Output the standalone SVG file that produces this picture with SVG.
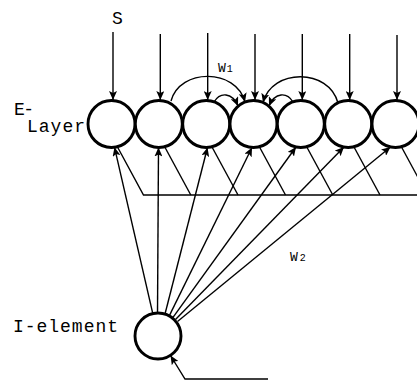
<svg xmlns="http://www.w3.org/2000/svg" width="417" height="381" viewBox="0 0 417 381">
<style>
  .node { fill: #fff; stroke: #000; stroke-width: 2.9; }
  .conn { fill: none; stroke: #000; stroke-width: 1.4; }
  .arr { marker-end: url(#ah); }
  .lbl { font-family: "Liberation Mono", "Courier New", monospace; font-size: 18px; fill: #000; }
  .w { font-family: "Liberation Mono", "Courier New", monospace; font-size: 13px; fill: #000; }
  .sub { font-size: 10px; }
</style>
<defs>
  <marker id="ah" markerUnits="userSpaceOnUse" markerWidth="10" markerHeight="8" refX="9" refY="4" orient="auto">
    <path d="M0,0 L9,4 L0,8 L2,4 z" fill="#000"/>
  </marker>
</defs>
<rect width="417" height="381" fill="#fff"/>

<g id="connectors">
  <!-- external inputs -->
  <line class="conn arr" x1="113" y1="32" x2="113" y2="100"/>
  <line class="conn arr" x1="160.3" y1="34" x2="160.3" y2="100"/>
  <line class="conn arr" x1="207.7" y1="33" x2="207.7" y2="100"/>
  <line class="conn arr" x1="255" y1="34" x2="255" y2="100"/>
  <line class="conn arr" x1="302.3" y1="34" x2="302.3" y2="100"/>
  <line class="conn arr" x1="349.7" y1="34" x2="349.7" y2="100"/>
  <line class="conn arr" x1="397" y1="35" x2="397" y2="100"/>
  <!-- lateral W1 connections -->
  <path class="conn arr" d="M171,101 C180,68 236,68 245,102"/>
  <path class="conn arr" d="M214,102 C220,92 232,92 238,106"/>
  <path class="conn arr" d="M338,103 C329,68 272,68 263,102.5"/>
  <path class="conn arr" d="M293,102 C287,92 275,92 269,106"/>
  <!-- outputs to summing line -->
  <polyline class="conn" points="117.5,147 143.5,195 417,195"/>
  <line class="conn" x1="164.8" y1="147" x2="190.8" y2="195"/>
  <line class="conn" x1="212" y1="147" x2="238" y2="195"/>
  <line class="conn" x1="259.5" y1="147" x2="285.5" y2="195"/>
  <line class="conn" x1="306.8" y1="147" x2="332.8" y2="195"/>
  <line class="conn" x1="354" y1="147" x2="380" y2="195"/>
  <line class="conn" x1="401.5" y1="147" x2="427.5" y2="195"/>
  <!-- W2 connections from I-element -->
  <line class="conn arr" x1="152.8" y1="313.6" x2="114.5" y2="147.3"/>
  <line class="conn arr" x1="157.5" y1="313" x2="158.5" y2="147.5"/>
  <line class="conn arr" x1="165" y1="314" x2="207.5" y2="147.5"/>
  <line class="conn arr" x1="169.5" y1="315.4" x2="252" y2="147.5"/>
  <line class="conn arr" x1="173" y1="317.4" x2="296" y2="147"/>
  <line class="conn arr" x1="175.5" y1="319.6" x2="344" y2="147"/>
  <line class="conn arr" x1="177.5" y1="321.5" x2="390.5" y2="147"/>
  <!-- feedback into I-element -->
  <path class="conn arr" d="M268,379 L185,379 L170.5,355.5"/>
</g>

<g id="e1"><circle class="node" cx="111.5" cy="124" r="23.5"/></g>
<g id="e2"><circle class="node" cx="158.8" cy="124" r="23.5"/></g>
<g id="e3"><circle class="node" cx="206.2" cy="124" r="23.5"/></g>
<g id="e4"><circle class="node" cx="253.5" cy="124" r="23.5"/></g>
<g id="e5"><circle class="node" cx="300.8" cy="124" r="23.5"/></g>
<g id="e6"><circle class="node" cx="348.2" cy="124" r="23.5"/></g>
<g id="e7"><circle class="node" cx="395.5" cy="124" r="23.5"/></g>
<g id="i-element"><circle class="node" cx="158" cy="336" r="23"/></g>

<g id="labels">
  <text class="lbl" x="112" y="24" textLength="10">S</text>
  <text class="lbl" x="14" y="115" textLength="20">E-</text>
  <text class="lbl" x="27" y="132" textLength="58">Layer</text>
  <text class="lbl" x="13" y="332" textLength="105">I-element</text>
  <text class="w" x="218" y="72">W<tspan class="sub" dx="1">1</tspan></text>
  <text class="w" x="290" y="261">W<tspan class="sub" dx="2">2</tspan></text>
</g>
</svg>
